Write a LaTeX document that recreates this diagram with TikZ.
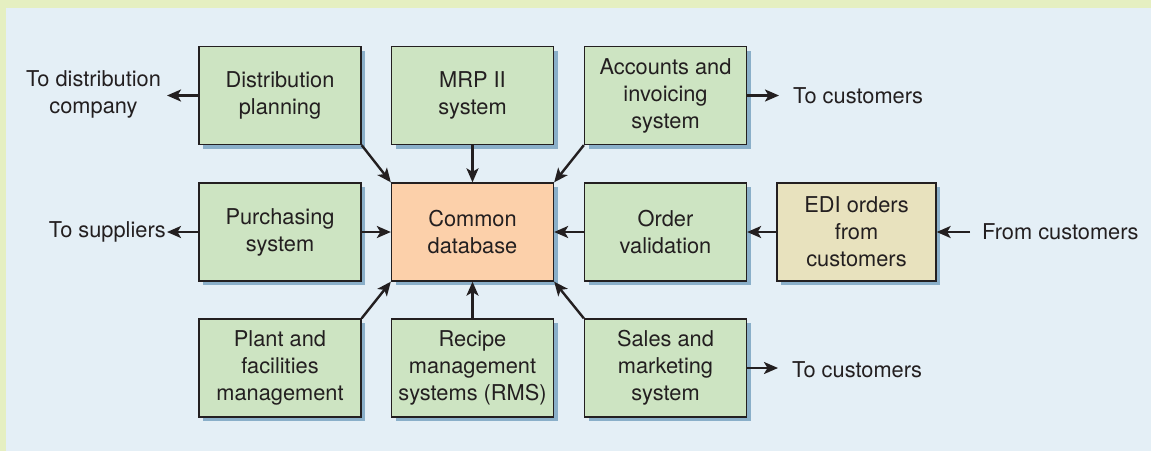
\documentclass[tikz,border=0pt]{standalone}
\usepackage{fontspec}
\setmainfont{TeX Gyre Heros}
\usetikzlibrary{arrows.meta,shadows}
\definecolor{bandcol}{HTML}{E5EFC1}
\definecolor{bgcol}{HTML}{E4EFF6}
\definecolor{greencol}{HTML}{CDE4C2}
\definecolor{orangecol}{HTML}{FCD0AA}
\definecolor{edicol}{HTML}{E8E2BE}
\definecolor{shadowcol}{HTML}{8AAFC9}
\definecolor{inkcol}{HTML}{231F20}
\tikzset{
  box/.style={draw=inkcol, line width=1.3pt, rectangle, minimum width=162pt, minimum height=98pt,
    inner sep=0pt, align=center, text=inkcol, font=\fontsize{21.8}{27}\selectfont,
    drop shadow={shadow xshift=4pt, shadow yshift=-4pt, fill=shadowcol, opacity=1}},
  gbox/.style={box, fill=greencol},
  ext/.style={inner sep=0pt, align=center, text=inkcol, font=\fontsize{21.8}{27}\selectfont},
  arr/.style={draw=inkcol, line width=2.4pt, -{Stealth[length=14pt, width=12pt, inset=3.5pt]}}
}
\begin{document}
\begin{tikzpicture}[x=1pt, y=-1pt]
\useasboundingbox (0,0) rectangle (1151,451);
\fill[bandcol] (0,0) rectangle (1151,451);
\fill[bgcol] (6,8) rectangle (1151,451);

\node[gbox] (dist) at (280,95.5) {Distribution\\planning};
\node[gbox] (mrp) at (472.5,95.5) {MRP II\\system};
\node[gbox] (acc) at (665.5,95.5) {Accounts and\\invoicing\\system};
\node[gbox] (pur) at (280,232) {Purchasing\\system};
\node[box, fill=orangecol] (db) at (472.5,232) {Common\\database};
\node[gbox] (ord) at (665.5,232) {Order\\validation};
\node[box, fill=edicol, minimum width=159pt] (edi) at (856.5,232) {EDI orders\\from\\customers};
\node[gbox] (plant) at (280,368) {Plant and\\facilities\\management};
\node[gbox] (rms) at (472.5,368) {Recipe\\management\\systems (RMS)};
\node[gbox] (sales) at (665.5,368) {Sales and\\marketing\\system};

\node[ext] (todist) at (93.5,94) {To distribution\\company};
\coordinate (distend) at (167,95.5);
\node[ext, anchor=east, inner xsep=1pt] (tosup) at (167,232) {To suppliers};
\node[ext, anchor=west, inner xsep=14pt] (tocust1) at (779,96) {To customers};
\node[ext, anchor=west, inner xsep=14pt] (tocust2) at (778,370) {To customers};
\node[ext, anchor=west, inner xsep=12pt] (fromcust) at (970,232) {From customers};

\draw[arr] (dist.west) -- (distend);
\draw[arr] (pur.west) -- (pur.west -| tosup.east);
\draw[arr] (acc.east) -- (acc.east -| tocust1.west);
\draw[arr] (sales.east) -- (sales.east -| tocust2.west);
\draw[arr] (fromcust.west |- edi.east) -- (edi.east);
\draw[arr] (edi.west) -- (ord.east);
\draw[arr] (ord.west) -- (db.east);
\draw[arr] (pur.east) -- (db.west);
\draw[arr] (mrp.south) -- (db.north);
\draw[arr] (rms.north) -- (db.south);
\draw[arr] (dist.south east) -- (db.north west);
\draw[arr] (acc.south west) -- (db.north east);
\draw[arr] (plant.north east) -- (db.south west);
\draw[arr] (sales.north west) -- (db.south east);
\end{tikzpicture}
\end{document}
